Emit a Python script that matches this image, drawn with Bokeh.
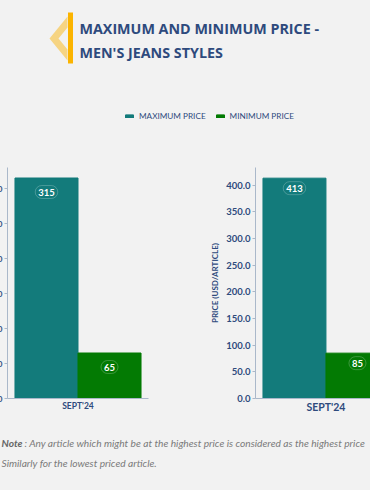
from bokeh.plotting import figure
from bokeh.models import (Range1d, FixedTicker, NumeralTickFormatter, Legend, LegendItem,
                          ColumnDataSource, Label)
from bokeh.transform import dodge
from bokeh.layouts import column, row
from bokeh.embed import file_html
from bokeh.resources import INLINE
from bokeh.core.properties import value

# ---------------- data ----------------
months = ["SEPT'24"]
series = ["MAXIMUM PRICE", "MINIMUM PRICE"]
left_max = [315]
left_min = [65]
right_max = [413]
right_min = [85]
left_yticks = [0, 50, 100, 150, 200, 250, 300]
right_yticks = [0, 50, 100, 150, 200, 250, 300, 350, 400]
title_lines = ["MAXIMUM AND MINIMUM PRICE -", "MEN'S JEANS STYLES"]
note_lines = ["Note", ": Any article which might be at the highest price is considered as the highest price",
              "Similarly for the lowest priced article."]
y_axis_title = "PRICE (USD/ARTICLE)"

# ---------------- style ----------------
BG = "#f2f2f2"
TEAL = "#137b7b"
GREEN = "#037a03"
NAVY = "#2e4a7d"
AXIS = "#aab8ca"
FONT = "Lato"
HALF = 0.2235
BARW = 0.447


def make_chart(maxv, minv, width, height, xr, ymax, ticks, border_left, border_right,
               xlabel_size, ylabel_size, label_offset, axis_title):
    p = figure(width=width, height=height, x_range=Range1d(*xr), y_range=Range1d(0, ymax),
               output_backend="svg", toolbar_location=None,
               min_border_left=border_left, min_border_right=border_right,
               min_border_top=9, min_border_bottom=14,
               background_fill_color=None, border_fill_color=None, outline_line_color=None)
    xs = list(range(len(months)))
    src = ColumnDataSource(dict(x=xs, mx=maxv, mn=minv,
                                mxl=[str(v) for v in maxv], mnl=[str(v) for v in minv]))
    p.vbar(x=dodge('x', -HALF), top='mx', width=BARW, source=src,
           fill_color=TEAL, line_color=TEAL)
    p.vbar(x=dodge('x', HALF), top='mn', width=BARW, source=src,
           fill_color=GREEN, line_color=GREEN)
    for fld, ycol, off in (('mxl', 'mx', -HALF), ('mnl', 'mn', HALF)):
        p.text(x=dodge('x', off), y=ycol, text=fld, source=src, y_offset=label_offset,
               text_align='center', text_baseline='middle', text_color='white',
               text_font=value(FONT), text_font_style='bold', text_font_size='9.5px',
               border_line_color='white', border_line_alpha=0.22, border_radius=8, padding=3)
    p.grid.visible = False
    xa = p.xaxis[0]
    xa.ticker = FixedTicker(ticks=xs)
    xa.major_label_overrides = {i: m for i, m in enumerate(months)}
    xa.major_tick_line_color = None
    xa.major_tick_out = 0
    xa.major_tick_in = 0
    xa.minor_tick_line_color = None
    xa.axis_line_color = AXIS
    xa.major_label_standoff = 2
    xa.major_label_text_font = FONT
    xa.major_label_text_font_style = 'bold'
    xa.major_label_text_font_size = xlabel_size
    xa.major_label_text_color = NAVY

    ya = p.yaxis[0]
    ya.ticker = FixedTicker(ticks=ticks)
    ya.formatter = NumeralTickFormatter(format="0.0")
    ya.axis_line_color = AXIS
    ya.major_tick_line_color = AXIS
    ya.minor_tick_line_color = None
    ya.major_tick_out = 3
    ya.major_tick_in = 0
    ya.major_label_text_font = FONT
    ya.major_label_text_font_style = 'bold'
    ya.major_label_text_font_size = ylabel_size
    ya.major_label_text_color = NAVY
    ya.major_label_standoff = 2
    if axis_title:
        ya.axis_label = axis_title
        ya.axis_label_text_font = FONT
        ya.axis_label_text_font_style = 'bold'
        ya.axis_label_text_font_size = '8px'
        ya.axis_label_text_color = NAVY
        ya.axis_label_standoff = 3
    return p


# left chart: its tick labels run past the left edge of the page, as in the original slide crop
left = make_chart(left_max, left_min, 238, 257, (-0.5, 0.5), 330, left_yticks,
                  40, 57, '8.5px', '8px', 14, None)
left.margin = (0, 0, 0, -33)
right = make_chart(right_max, right_min, 165, 257, (-0.5, 0.316), 433, right_yticks,
                   50, 0, '10.5px', '9.5px', 10, y_axis_title)

# ---------------- header ----------------
top = figure(width=370, height=158, x_range=Range1d(0, 370), y_range=Range1d(158, 0),
             x_axis_type=None, y_axis_type=None, min_border=0, output_backend="svg",
             toolbar_location=None, background_fill_color=None, border_fill_color=None,
             outline_line_color=None)
top.grid.visible = False
top.patch(x=[67, 49, 67, 67, 58, 67], y=[16, 38, 60, 49, 38, 27],
          fill_color="#f7cf6e", fill_alpha=0.85, line_color=None)
top.quad(left=67.5, right=72.5, top=12, bottom=63, fill_color="#fbb400", line_color=None)
for i, t in enumerate(title_lines):
    top.add_layout(Label(x=79, y=28 + 24 * i, text=t, text_font="Open Sans",
                         text_font_style="bold", text_font_size="14.3px", text_color=NAVY,
                         text_baseline="middle", text_align="left"))
r1 = top.vbar(x=[0], top=[left_max[0]], width=BARW, fill_color=TEAL, line_color=TEAL, visible=False)
r2 = top.vbar(x=[0], top=[left_min[0]], width=BARW, fill_color=GREEN, line_color=GREEN, visible=False)
legend = Legend(items=[LegendItem(label=series[0], renderers=[r1]),
                       LegendItem(label=series[1], renderers=[r2])],
                orientation="horizontal", location=(124, 37),
                background_fill_alpha=0, border_line_alpha=0, padding=0, margin=0,
                spacing=9, label_standoff=5, glyph_width=10, glyph_height=4,
                label_height=8, label_text_font=FONT, label_text_font_size="8.2px",
                label_text_color=NAVY)
top.add_layout(legend)

# ---------------- footer ----------------
bottom = figure(width=370, height=75, x_range=Range1d(0, 370), y_range=Range1d(490, 415),
                x_axis_type=None, y_axis_type=None, min_border=0, output_backend="svg",
                toolbar_location=None, background_fill_color=None, border_fill_color=None,
                outline_line_color=None)
bottom.grid.visible = False
bottom.add_layout(Label(x=22, y=442, text=note_lines[0], text_font=FONT,
                        text_font_style="bold italic", text_font_size="10.2px", text_color="#666666",
                        text_baseline="middle", text_align="right"))
bottom.add_layout(Label(x=24, y=442, text=note_lines[1], text_font=FONT,
                        text_font_style="italic", text_font_size="10.2px", text_color="#7a7a7a",
                        text_baseline="middle", text_align="left"))
bottom.add_layout(Label(x=1, y=462, text=note_lines[2], text_font=FONT,
                        text_font_style="italic", text_font_size="10.2px", text_color="#7a7a7a",
                        text_baseline="middle", text_align="left"))

mid = row(left, right, styles={"background-color": BG})
layout = column(top, mid, bottom, styles={"background-color": BG})
open("out.html", "w").write(file_html(layout, INLINE))
